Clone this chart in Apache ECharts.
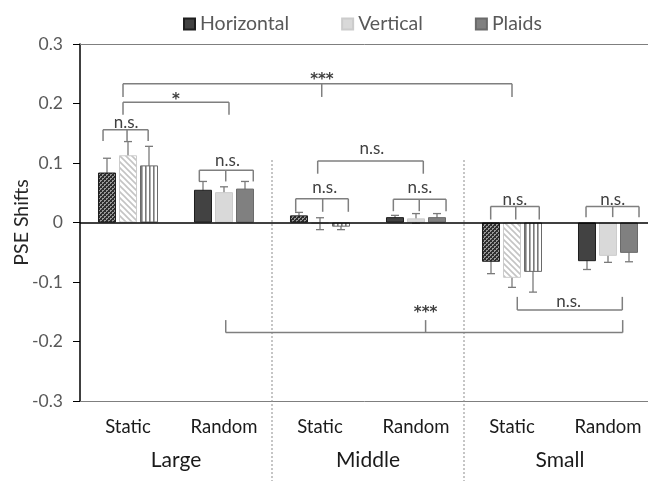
<!DOCTYPE html>
<html><head><meta charset="utf-8">
<script src="https://cdn.jsdelivr.net/npm/echarts@6/dist/echarts.min.js"></script>
<style>html,body{margin:0;padding:0;background:#fff}#c{width:648px;height:481px}</style>
</head><body><div id="c"></div>
<script>
// ---- data ----
const categories = ['Static', 'Random', 'Static', 'Random', 'Static', 'Random'];
const groups = ['Large', 'Middle', 'Small'];
const seriesNames = ['Horizontal', 'Vertical', 'Plaids'];
const horizontal = [0.084, 0.055, 0.012, 0.009, -0.066, -0.065];
const vertical   = [0.113, 0.051, -0.002, 0.007, -0.093, -0.056];
const plaids     = [0.096, 0.057, -0.007, 0.009, -0.083, -0.051];
const horizontalErr = [0.024, 0.014, 0.005, 0.003, 0.020, 0.014];
const verticalErr   = [0.023, 0.009, 0.010, 0.008, 0.016, 0.011];
const plaidsErr     = [0.032, 0.012, 0.005, 0.006, 0.034, 0.015];
const yTickLabels = ['-0.3', '-0.2', '-0.1', '0', '0.1', '0.2', '0.3'];
// significance brackets (x in category units, y in data units)
const bracketLegs = [
  [-0.26, -0.01, 0.21], [0.743, 1.018, 1.305], [1.747, 2.028, 2.295], [2.764, 3.034, 3.313],
  [1.976, 3.076], [3.778, 4.039, 4.284], [4.771, 5.049, 5.323], [-0.052, 1.052],
  [-0.052, 2.018, 4.0], [4.055, 5.149], [1.018, 3.1, 5.153]
];
const bracketY   = [0.156, 0.088, 0.040, 0.039, 0.1035, 0.027, 0.027, 0.202, 0.233, -0.147, -0.185];
const bracketEnd = [0.137, 0.069, 0.018, 0.019, 0.082, 0.005, 0.009, 0.181, 0.211, -0.125, -0.164];
const bracketLabels = ['n.s.', 'n.s.', 'n.s.', 'n.s.', 'n.s.', 'n.s.', 'n.s.', '*', '***', 'n.s.', '***'];
const bracketLabelX = [-0.02, 1.036, 2.05, 3.04, 2.54, 4.03, 5.05, 0.5, 2.02, 4.59, 3.1];
const bracketLabelY = [0.168, 0.105, 0.059, 0.059, 0.124, 0.039, 0.039, 0.205, 0.240, -0.133, -0.152];
const separators = [1.5, 3.5];
const separatorTop = 0.105;

// ---- patterns ----
function makePattern(w, h, draw) {
  const c = document.createElement('canvas'); c.width = w; c.height = h;
  draw(c.getContext('2d')); return { image: c, repeat: 'repeat' };
}
const dotPattern = makePattern(4, 4, g => {
  g.fillStyle = '#2e2e2e'; g.fillRect(0, 0, 4, 4);
  g.fillStyle = '#9a9a9a'; g.fillRect(0, 0, 2, 2); g.fillRect(2, 2, 2, 2);
  g.fillStyle = '#2e2e2e'; g.fillRect(1, 1, 1, 1); g.fillRect(3, 3, 1, 1);
});
const diagPattern = makePattern(6, 6, g => {
  g.fillStyle = '#ffffff'; g.fillRect(0, 0, 6, 6);
  g.strokeStyle = '#c4c4c4'; g.lineWidth = 1.6;
  g.beginPath(); g.moveTo(-1, -1); g.lineTo(7, 7); g.moveTo(-4, 2); g.lineTo(4, 10); g.moveTo(2, -4); g.lineTo(10, 4); g.stroke();
});
const stripePattern = makePattern(4, 4, g => {
  g.fillStyle = '#ffffff'; g.fillRect(0, 0, 4, 4);
  g.fillStyle = '#7a7a7a'; g.fillRect(1, 0, 1.6, 4);
});

const solidColors = ['#424242', '#d9d9d9', '#808080'];
const borderColors = ['#1e1e1e', '#cccccc', '#6a6a6a'];
const patterns = [dotPattern, diagPattern, stripePattern];
const values = [horizontal, vertical, plaids];
const errs = [horizontalErr, verticalErr, plaidsErr];
const FONT = 'Lato';

const barSeries = seriesNames.map((name, i) => ({
  name, type: 'bar', xAxisIndex: 0, barWidth: 18, barGap: '16.7%',
  itemStyle: { color: solidColors[i], borderColor: borderColors[i], borderWidth: 1 },
  data: values[i].map((v, j) => j % 2 === 0
    ? { value: v, itemStyle: { color: patterns[i], borderColor: borderColors[i], borderWidth: 1 } }
    : v),
  markLine: i === 0 ? {
    silent: true, symbol: ['none', 'none'], label: { show: false },
    lineStyle: { color: '#000', width: 1.5, type: 'solid' }, data: [{ yAxis: 0 }]
  } : undefined
}));

const errSeries = seriesNames.map((name, i) => ({
  type: 'custom', xAxisIndex: 0, clip: false, silent: true,
  encode: { x: 0, y: 1 },
  data: categories.map((c, j) => [j, values[i][j], errs[i][j]]),
  renderItem: (params, api) => {
    const x = api.coord([api.value(0), api.value(1)])[0] + (i - 1) * 21;
    const hi = api.coord([api.value(0), api.value(1) + api.value(2)])[1];
    const lo = api.coord([api.value(0), api.value(1) - api.value(2)])[1];
    const st = { stroke: '#7a7a7a', lineWidth: 1.3 };
    return { type: 'group', children: [
      { type: 'line', shape: { x1: x, y1: hi, x2: x, y2: lo }, style: st },
      { type: 'line', shape: { x1: x - 4, y1: hi, x2: x + 4, y2: hi }, style: st },
      { type: 'line', shape: { x1: x - 4, y1: lo, x2: x + 4, y2: lo }, style: st }
    ] };
  }
}));

const bracketSeries = {
  type: 'custom', xAxisIndex: 0, clip: false, silent: true, z: 5,
  encode: { x: 0, y: 1 },
  data: bracketY.map(y => [0, y]),
  renderItem: (params, api) => {
    const k = params.dataIndex;
    const x0 = api.coord([0, 0])[0], cw = api.size([1, 0])[0];
    const X = u => x0 + u * cw, Y = v => api.coord([0, v])[1];
    const legs = bracketLegs[k];
    const st = { stroke: '#7f7f7f', lineWidth: 1.5 };
    const ch = [{ type: 'line', shape: { x1: X(Math.min(...legs)), y1: Y(bracketY[k]), x2: X(Math.max(...legs)), y2: Y(bracketY[k]) }, style: st }];
    legs.forEach(u => ch.push({ type: 'line', shape: { x1: X(u), y1: Y(bracketY[k]), x2: X(u), y2: Y(bracketEnd[k]) }, style: st }));
    const isStar = bracketLabels[k].indexOf('*') >= 0;
    ch.push({ type: 'text', x: X(bracketLabelX[k]), y: Y(bracketLabelY[k]), style: {
      text: bracketLabels[k], fill: '#404040',
      font: isStar ? 'bold 15px "DejaVu Sans"' : '17px ' + FONT,
      align: 'center', verticalAlign: 'middle' } });
    return { type: 'group', children: ch };
  }
};

const sepSeries = {
  type: 'custom', xAxisIndex: 0, clip: false, silent: true,
  encode: { x: 0, y: 1 },
  data: separators.map(s => [0, separatorTop]),
  renderItem: (params, api) => {
    const x0 = api.coord([0, 0])[0], cw = api.size([1, 0])[0];
    const x = x0 + separators[params.dataIndex] * cw;
    return { type: 'line', shape: { x1: x, y1: api.coord([0, separatorTop])[1], x2: x, y2: api.getHeight() },
      style: { stroke: '#8c8c8c', lineWidth: 1, lineDash: [2, 2] } };
  }
};

const chart = echarts.init(document.getElementById('c'), null, { renderer: 'canvas' });
chart.setOption({
  animation: false,
  textStyle: { fontFamily: FONT },
  legend: {
    data: seriesNames, top: 9, left: 178, icon: 'rect', itemWidth: 11, itemHeight: 11, itemGap: 52,
    textStyle: { fontSize: 19.5, color: '#595959', fontFamily: FONT }
  },
  grid: { left: 80, top: 44, width: 576, height: 357, containLabel: false, outerBoundsMode: 'none' },
  xAxis: [
    { type: 'category', data: categories, position: 'bottom',
      axisLine: { onZero: false, lineStyle: { color: '#7f7f7f', width: 1 } }, axisTick: { show: false },
      axisLabel: { fontSize: 18.5, color: '#1a1a1a', margin: 17, fontFamily: FONT } },
    { type: 'category', data: groups, position: 'bottom', offset: 40,
      axisLine: { show: false }, axisTick: { show: false },
      axisLabel: { fontSize: 21, color: '#1a1a1a', margin: 9, fontFamily: FONT } },
    { type: 'category', data: categories, position: 'top',
      axisLine: { onZero: false, lineStyle: { color: '#7f7f7f', width: 1 } }, axisTick: { show: false },
      axisLabel: { show: false } }
  ],
  yAxis: {
    type: 'value', min: -0.3, max: 0.3, interval: 0.1,
    name: 'PSE Shifts', nameLocation: 'middle', nameGap: 48, nameRotate: 90, nameMoveOverlap: false,
    nameTextStyle: { fontSize: 19.5, color: '#262626', fontFamily: FONT },
    axisLine: { show: true, lineStyle: { color: '#000', width: 1.5 } },
    axisTick: { show: true, length: 7, lineStyle: { color: '#000' } },
    axisLabel: { fontSize: 17.5, color: '#595959', margin: 17, fontFamily: FONT,
      formatter: v => yTickLabels[Math.round(v * 10) + 3] },
    splitLine: { show: false }
  },
  series: [...barSeries, ...errSeries, bracketSeries, sepSeries]
});
</script></body></html>
